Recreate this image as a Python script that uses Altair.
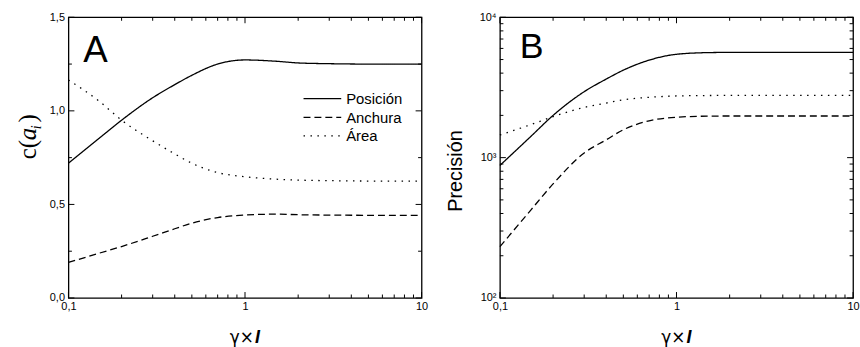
import altair as alt
import pandas as pd

# ---------------- data ----------------
x_vals = [0.1, 0.15, 0.2, 0.3, 0.4, 0.5, 0.7, 1, 1.5, 2, 3, 5, 7, 10]

a_posicion = [0.72, 0.855, 0.95, 1.07, 1.14, 1.19, 1.25, 1.272, 1.265, 1.256, 1.252, 1.25, 1.25, 1.25]
a_anchura = [0.19, 0.24, 0.275, 0.33, 0.37, 0.40, 0.43, 0.443, 0.448, 0.445, 0.443, 0.442, 0.442, 0.442]
a_area = [1.165, 1.05, 0.95, 0.84, 0.77, 0.72, 0.67, 0.648, 0.635, 0.63, 0.627, 0.625, 0.625, 0.625]

b_posicion = [880, 1420, 2000, 2950, 3630, 4200, 4950, 5450, 5600, 5620, 5620, 5620, 5620, 5620]
b_anchura = [232, 425, 650, 1080, 1340, 1580, 1830, 1940, 1975, 1980, 1980, 1980, 1980, 1980]
b_area = [1450, 1720, 1960, 2280, 2450, 2580, 2690, 2750, 2770, 2780, 2780, 2780, 2780, 2780]

series_names = ["Posición", "Anchura", "Área"]
panel_letters = ["A", "B"]
x_title_parts = ["γ×", "I"]
ya_title_parts = ["c(", "a", "i", ")"]
yb_title = ["Precisión"]

x_major = [0.1, 1, 10]
x_minor = [0.2, 0.3, 0.4, 0.5, 0.6, 0.7, 0.8, 0.9, 2, 3, 4, 5, 6, 7, 8, 9]
ya_major = [0, 0.5, 1.0, 1.5]
ya_minor = [0.25, 0.75, 1.25]
yb_major = [100, 1000, 10000]
yb_minor = [200, 300, 400, 500, 600, 700, 800, 900, 2000, 3000, 4000, 5000, 6000, 7000, 8000, 9000]
yb_labels = ["10²", "10³", "10⁴"]

# ---------------- layout/style ----------------
W, H = 356, 283
FONT = "Liberation Sans"
SERIF = "Liberation Serif"
dash_range = [[1, 0], [7, 4], [1.5, 5.5]]

xscale = alt.Scale(type="log", domain=[0.1, 10], nice=False)
ya_scale = alt.Scale(domain=[0, 1.5], nice=False, zero=False)
yb_scale = alt.Scale(type="log", domain=[100, 10000], nice=False)

X_AXIS = alt.Axis(values=x_major, labelExpr="replace(format(datum.value, '~g'), '.', ',')",
                  ticks=False, domain=False, grid=False, title=None, labelFontSize=11,
                  labelFont=FONT, labelColor="black", labelPadding=3, labelFlush=False,
                  labelOverlap=False)

YA_AXIS = alt.Axis(values=ya_major, labelExpr="replace(format(datum.value, '.1f'), '.', ',')",
                   ticks=False, domain=False, grid=False, title=None, labelFontSize=11,
                   labelFont=FONT, labelColor="black", labelPadding=4, labelFlush=False,
                   labelOverlap=False)

YB_AXIS = alt.Axis(values=yb_major,
                   labelExpr=f"datum.value < 500 ? '{yb_labels[0]}' : datum.value < 5000 ? '{yb_labels[1]}' : '{yb_labels[2]}'",
                   ticks=False, domain=False, grid=False, title=None, labelFontSize=11,
                   labelFont=FONT, labelColor="black", labelPadding=4, labelFlush=False,
                   labelOverlap=False)


def long_df(series):
    rows = []
    for name, vals in zip(series_names, series):
        for x, v in zip(x_vals, vals):
            rows.append({"x": x, "v": v, "s": name})
    return pd.DataFrame(rows)


def ticks_layers(yscale, yaxis, ymaj, ymin):
    layers = []
    for vals, ln in [(x_major, 6), (x_minor, 3.5)]:
        d = alt.Chart(pd.DataFrame({"t": vals}))
        layers.append(d.mark_rule(color="black", strokeWidth=1).encode(
            x=alt.X("t:Q", scale=xscale, axis=X_AXIS), y=alt.value(H), y2=alt.value(H - ln)))
        layers.append(d.mark_rule(color="black", strokeWidth=1).encode(
            x=alt.X("t:Q", scale=xscale, axis=X_AXIS), y=alt.value(0), y2=alt.value(ln)))
    for vals, ln in [(ymaj, 6), (ymin, 3.5)]:
        d = alt.Chart(pd.DataFrame({"t": vals}))
        layers.append(d.mark_rule(color="black", strokeWidth=1).encode(
            y=alt.Y("t:Q", scale=yscale, axis=yaxis), x=alt.value(0), x2=alt.value(ln)))
        layers.append(d.mark_rule(color="black", strokeWidth=1).encode(
            y=alt.Y("t:Q", scale=yscale, axis=yaxis), x=alt.value(W), x2=alt.value(W - ln)))
    return layers


def text_layer(txt, x, y, size, font=FONT, style="normal", weight="normal", align="left",
               baseline="alphabetic", angle=0):
    return alt.Chart(pd.DataFrame({"t": [txt]})).mark_text(
        font=font, fontSize=size, fontStyle=style, fontWeight=weight, align=align,
        baseline=baseline, angle=angle, color="black").encode(
        text="t:N", x=alt.value(x), y=alt.value(y))


def x_title_layers():
    return [
        text_layer(x_title_parts[0], W / 2 + 9, H + 45, 17, font="DejaVu Sans", align="right"),
        text_layer(x_title_parts[1], W / 2 + 10, H + 45, 18, style="italic", weight="bold", align="left"),
    ]


def lines(df, yscale, yaxis):
    return alt.Chart(df).mark_line(color="black", strokeWidth=1.3, interpolate="monotone").encode(
        x=alt.X("x:Q", scale=xscale, axis=X_AXIS),
        y=alt.Y("v:Q", scale=yscale, axis=yaxis),
        strokeDash=alt.StrokeDash("s:N", scale=alt.Scale(domain=series_names, range=dash_range), legend=None),
        detail="s:N",
    )


# ---------------- panel A ----------------
legend_layers = []
row_y = [82, 101, 119.5]
for name, dash, ry in zip(series_names, dash_range, row_y):
    legend_layers.append(alt.Chart(pd.DataFrame({"s": [name]})).mark_rule(
        color="black", strokeWidth=1.3, strokeDash=dash).encode(
        x=alt.value(237), x2=alt.value(275), y=alt.value(ry)))
    legend_layers.append(text_layer(name, 280, ry + 5.5, 15))

ya_title = [
    text_layer(ya_title_parts[0], -33, 143, 25, font=SERIF, angle=270),
    text_layer(ya_title_parts[1], -33, 124, 25, font=SERIF, style="italic", angle=270),
    text_layer(ya_title_parts[2], -28, 113, 14, font=SERIF, style="italic", angle=270),
    text_layer(ya_title_parts[3], -33, 106, 25, font=SERIF, angle=270),
]

panel_a = alt.layer(
    lines(long_df([a_posicion, a_anchura, a_area]), ya_scale, YA_AXIS),
    *ticks_layers(ya_scale, YA_AXIS, ya_major, ya_minor),
    *legend_layers,
    text_layer(panel_letters[0], 15, 45, 37),
    *x_title_layers(),
    *ya_title,
).properties(width=W, height=H)

# ---------------- panel B ----------------
panel_b = alt.layer(
    lines(long_df([b_posicion, b_anchura, b_area]), yb_scale, YB_AXIS),
    *ticks_layers(yb_scale, YB_AXIS, yb_major, yb_minor),
    text_layer(panel_letters[1], 20, 41, 36),
    *x_title_layers(),
    text_layer(yb_title[0], -44, 155, 20, align="center", baseline="middle", angle=270),
).properties(width=W, height=H)

chart = alt.hconcat(panel_a, panel_b, spacing=79, bounds="flush").properties(
    padding={"left": 15, "top": 9, "right": 0, "bottom": 0}
).configure_view(stroke="black", strokeWidth=1.3)

chart.save("out.html", embed_options={"renderer": "svg", "actions": False})
